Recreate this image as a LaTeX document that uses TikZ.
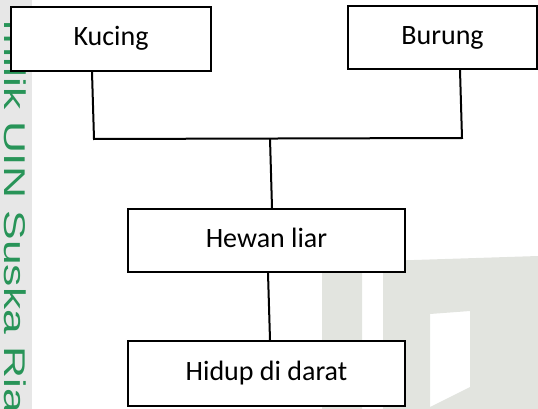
\documentclass[tikz,border=0pt]{standalone}
\usepackage{fontspec}
\setmainfont{Carlito}
\newfontfamily\wmfont{Liberation Sans}
\usetikzlibrary{calc}
\definecolor{wmstrip}{RGB}{231,231,231}
\definecolor{wmgray}{RGB}{226,228,223}
\definecolor{wmgreen}{RGB}{40,148,88}
\begin{document}
\begin{tikzpicture}[x=1pt,y=-1pt,
  box/.style={draw,line width=2pt,fill=white,inner sep=0pt,
    font=\fontsize{28}{30}\selectfont,text height=20pt,text depth=6pt},
  conn/.style={line width=2pt}]
\useasboundingbox (0,0) rectangle (538,409);
\clip (0,0) rectangle (538,409);
% watermark
\fill[wmstrip] (0,0) rectangle (32,409);
\node[rotate=-90,anchor=base west,inner sep=0pt,text=wmgreen,
  font=\wmfont\fontsize{30}{30}\selectfont] (wm) at (4.5,20.5)
  {\scalebox{1.48}[1]{milik UIN Suska Ria}};
\fill[wmgray] (322,262) -- (362,261) -- (362,409) -- (322,409) -- cycle;
\fill[wmgray,even odd rule] (383,261) -- (538,256) -- (538,409) -- (383,409) -- cycle
  (430,314) -- (470,311) -- (470,387) -- (430,407) -- cycle;
% boxes
\node[box,minimum width=200pt,minimum height=64pt] (kucing) at (111,39) {Kucing};
\node[box,minimum width=189pt,minimum height=63pt] (burung) at (442.5,37.5) {Burung};
\node[box,minimum width=277pt,minimum height=63pt] (hewan) at (266.5,240.5) {Hewan liar};
\node[box,minimum width=277pt,minimum height=65pt] (hidup) at (266.5,373.5) {Hidup di darat};
% connectors
\coordinate (busL) at (94,139);
\coordinate (busR) at (462,138);
\coordinate (busM) at (270,138.5);
\draw[conn] ([xshift=-19pt]kucing.south) -- (busL) -- (busR) -- ([xshift=17.5pt]burung.south);
\draw[conn] (busM) -- ([xshift=5.5pt]hewan.north);
\draw[conn] ([xshift=1.5pt]hewan.south) -- ([xshift=3.5pt]hidup.north);
\end{tikzpicture}
\end{document}
